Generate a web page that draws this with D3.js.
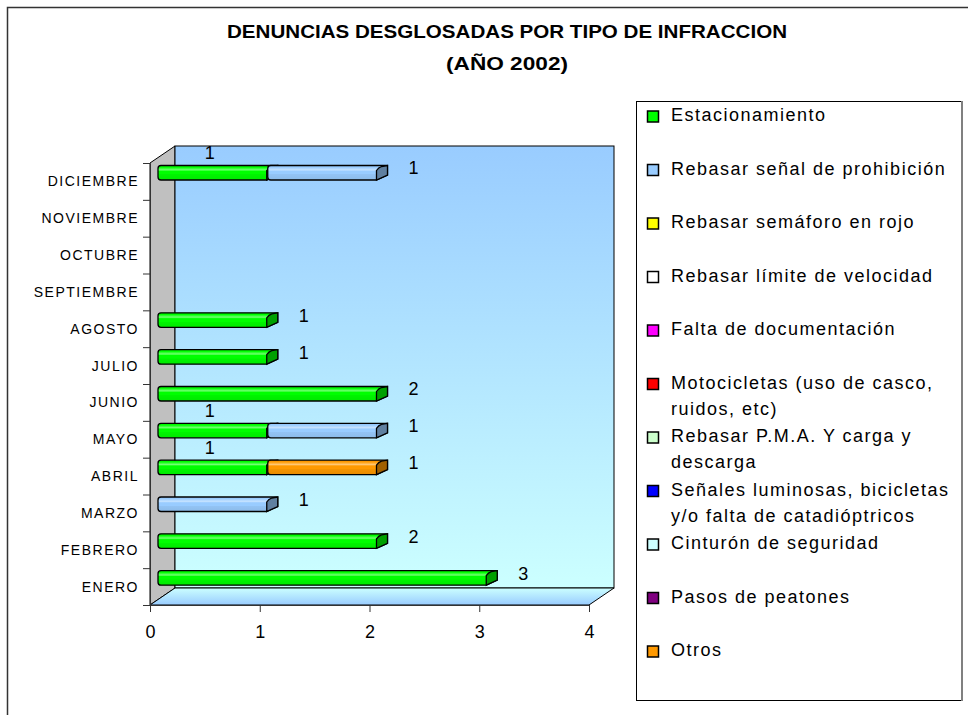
<!DOCTYPE html>
<html>
<head>
<meta charset="utf-8">
<script src="https://cdnjs.cloudflare.com/ajax/libs/d3/7.8.5/d3.min.js"></script>
<style>
  body { margin: 0; background: #fff; }
  svg text { font-family: "Liberation Sans", Arial, sans-serif; }
</style>
</head>
<body>
<div id="container"></div>
<script>
'use strict'

// months, bottom (ENERO) to top (DICIEMBRE)
const months = ['ENERO','FEBRERO','MARZO','ABRIL','MAYO','JUNIO','JULIO','AGOSTO','SEPTIEMBRE','OCTUBRE','NOVIEMBRE','DICIEMBRE'];

const seriesNames = ['Estacionamiento','Rebasar señal de prohibición','Rebasar semáforo en rojo','Rebasar límite de velocidad','Falta de documentación','Motocicletas (uso de casco, ruidos, etc)','Rebasar P.M.A. Y carga y descarga','Señales luminosas, bicicletas y/o falta de catadióptricos','Cinturón de seguridad','Pasos de peatones','Otros'];
const legendLines = [['Estacionamiento'],['Rebasar señal de prohibición'],['Rebasar semáforo en rojo'],['Rebasar límite de velocidad'],['Falta de documentación'],['Motocicletas (uso de casco,','ruidos, etc)'],['Rebasar P.M.A. Y carga y','descarga'],['Señales luminosas, bicicletas','y/o falta de catadióptricos'],['Cinturón de seguridad'],['Pasos de peatones'],['Otros']];
const seriesColors = ['#00ff00','#99ccff','#ffff00','#ffffff','#ff00ff','#ff0000','#ccffcc','#0000ff','#ccffff','#800080','#ff9900'];

// values per series, ENERO..DICIEMBRE
const estacionamiento = [3,2,0,1,1,2,1,1,0,0,0,1];
const senalProhibicion = [0,0,1,0,1,0,0,0,0,0,0,1];
const semaforo = [0,0,0,0,0,0,0,0,0,0,0,0];
const limiteVelocidad = [0,0,0,0,0,0,0,0,0,0,0,0];
const documentacion = [0,0,0,0,0,0,0,0,0,0,0,0];
const motocicletas = [0,0,0,0,0,0,0,0,0,0,0,0];
const pmaCarga = [0,0,0,0,0,0,0,0,0,0,0,0];
const senalesLuminosas = [0,0,0,0,0,0,0,0,0,0,0,0];
const cinturon = [0,0,0,0,0,0,0,0,0,0,0,0];
const peatones = [0,0,0,0,0,0,0,0,0,0,0,0];
const otros = [0,0,0,1,0,0,0,0,0,0,0,0];
const seriesValues = [estacionamiento,senalProhibicion,semaforo,limiteVelocidad,documentacion,motocicletas,pmaCarga,senalesLuminosas,cinturon,peatones,otros];

const xTicks = [0,1,2,3,4];

const width = 968, height = 715;
const DX = 25, DY = -17;      // depth of the 3d box
const BX0 = 8, BDX = 11, BDY = -5; // bar depth inside the box

const svg = d3.select('#container').append('svg')
    .attr('width', width).attr('height', height);

// outer frame
svg.append('rect').attr('x', 7.5).attr('y', 7.5).attr('width', 1200).attr('height', 900)
    .attr('fill', 'none').attr('stroke', '#333').attr('stroke-width', 1.5);

// title
svg.append('text').attr('x', 507).attr('y', 38).attr('text-anchor', 'middle')
    .attr('font-size', 18).attr('font-weight', 'bold')
    .attr('textLength', 560).attr('lengthAdjust', 'spacingAndGlyphs')
    .text('DENUNCIAS DESGLOSADAS POR TIPO DE INFRACCION');
svg.append('text').attr('x', 507).attr('y', 70).attr('text-anchor', 'middle')
    .attr('font-size', 18).attr('font-weight', 'bold')
    .attr('textLength', 122).attr('lengthAdjust', 'spacingAndGlyphs')
    .text('(AÑO 2002)');

const x = d3.scaleLinear().domain([0, 4]).range([150, 589]);
const y = d3.scaleBand().domain(months.slice().reverse()).range([163, 605]);
const yLin = d3.scaleLinear().domain([0, months.length]).range([605, 163]);

const x0 = x(0), x1 = x(4), yT = y.range()[0], yB = y.range()[1];

const defs = svg.append('defs');
function vGrad(id, stops) {
  const g = defs.append('linearGradient').attr('id', id)
      .attr('x1', 0).attr('y1', 0).attr('x2', 0).attr('y2', 1);
  stops.forEach(s => g.append('stop').attr('offset', s[0]).attr('stop-color', s[1]));
}
vGrad('wallG', [[0, '#99ccff'], [1, '#ccffff']]);
vGrad('floorG', [[0, '#ccffff'], [1, '#99ccff']]);

// walls
svg.append('polygon')
    .attr('points', [[x0, yT], [x0 + DX, yT + DY], [x0 + DX, yB + DY], [x0, yB]].join(' '))
    .attr('fill', '#c0c0c0').attr('stroke', '#000');
svg.append('rect').attr('x', x0 + DX).attr('y', yT + DY)
    .attr('width', x1 - x0).attr('height', yB - yT)
    .attr('fill', 'url(#wallG)').attr('stroke', '#000');
svg.append('polygon')
    .attr('points', [[x0, yB], [x1, yB], [x1 + DX, yB + DY], [x0 + DX, yB + DY]].join(' '))
    .attr('fill', 'url(#floorG)').attr('stroke', '#000');

// axes
svg.append('g').attr('transform', `translate(0,${yB})`)
    .call(d3.axisBottom(x).tickValues(xTicks).tickFormat(d3.format('d')).tickSize(7).tickSizeOuter(0))
    .call(g => g.selectAll('line,path').attr('stroke', '#333'))
    .call(g => g.selectAll('text').attr('font-size', 18).attr('fill', '#000').attr('dy', '1.3em')
        .attr('font-family', '"Liberation Sans", Arial, sans-serif'));
svg.append('g').attr('transform', `translate(${x0},0)`)
    .call(d3.axisLeft(yLin).ticks(months.length).tickFormat('').tickSize(7).tickSizeOuter(0))
    .call(g => g.selectAll('line,path').attr('stroke', '#333'));

svg.append('g').selectAll('text').data(months).enter().append('text')
    .attr('x', 139).attr('y', d => y(d) + y.bandwidth() / 2)
    .attr('dy', '0.36em').attr('text-anchor', 'end')
    .attr('font-size', 14).attr('letter-spacing', 1.5)
    .text(d => d);

// bar gradients per series
function shade(c, k) { return d3.color(c).darker(k).formatHex(); }
function bright(c, k) { return d3.interpolateRgb(c, '#fff')(k); }
seriesColors.forEach((c, i) => {
  vGrad('barG' + i, [[0, shade(c, 0.15)], [0.12, c], [0.3, bright(c, 0.45)], [0.4, c], [0.6, c], [0.62, shade(c, 0.12)], [1, shade(c, 0.25)]]);
});

// stacked segments
const segs = [];
months.forEach((m, mi) => {
  let cum = 0;
  const row = [];
  seriesValues.forEach((vals, si) => {
    const v = vals[mi];
    if (v > 0) { row.push({month: m, series: si, start: cum, end: cum + v, value: v}); cum += v; }
  });
  row.forEach((s, k) => { s.last = k === row.length - 1; segs.push(s); });
});

const bars = svg.append('g');
segs.forEach(s => {
  const top = y(s.month) + 2.5, bot = y(s.month) + 17;
  const xs = x(s.start) + BX0, xe = x(s.end) + BX0 - 1;
  const r = 3;
  const body = `M${xs + r},${top} L${xe + BDX},${top} L${xe + BDX},${bot + BDY} L${xe},${bot} L${xs + r},${bot}` +
      ` Q${xs},${bot} ${xs},${bot - r} L${xs},${top + r} Q${xs},${top} ${xs + r},${top} Z`;
  bars.append('path').attr('d', body)
      .attr('fill', `url(#barG${s.series})`).attr('stroke', '#000').attr('stroke-width', 1.3);
  const cap = `M${xe},${top - BDY} Q${xe + 2},${top - BDY - 3} ${xe + 5},${top - BDY - 4} L${xe + BDX},${top} L${xe + BDX},${bot + BDY} L${xe},${bot} Z`;
  bars.append('path').attr('d', cap)
      .attr('fill', shade(seriesColors[s.series], 1.3)).attr('stroke', '#000').attr('stroke-width', 1.3);
});

// data labels
svg.append('g').selectAll('text').data(segs).enter().append('text')
    .attr('x', d => d.last ? x(d.end) + 44 : x((d.start + d.end) / 2) + 5)
    .attr('y', d => d.last ? y(d.month) + 5 : y(d.month) - 10)
    .attr('dy', '0.36em').attr('text-anchor', 'middle').attr('font-size', 18)
    .text(d => d.value);

// legend
const lg = svg.append('g');
lg.append('rect').attr('x', 636.5).attr('y', 101.5).attr('width', 325).attr('height', 599)
    .attr('fill', '#fff').attr('stroke', '#000');
lg.append('line').attr('x1', 962).attr('x2', 962).attr('y1', 101).attr('y2', 701)
    .attr('stroke', '#808080').attr('stroke-width', 2);
const ly = d3.scaleLinear().domain([0, seriesNames.length - 1]).range([115, 650]);
seriesNames.forEach((n, i) => {
  lg.append('rect').attr('x', 647.5).attr('y', ly(i) - 4).attr('width', 11).attr('height', 11)
      .attr('fill', seriesColors[i]).attr('stroke', '#000').attr('stroke-width', 1.5);
  legendLines[i].forEach((t, k) => {
    lg.append('text').attr('x', 671).attr('y', ly(i) + k * 26).attr('dy', '0.36em')
        .attr('font-size', 18).attr('letter-spacing', 1.5).text(t);
  });
});
</script>
</body>
</html>
